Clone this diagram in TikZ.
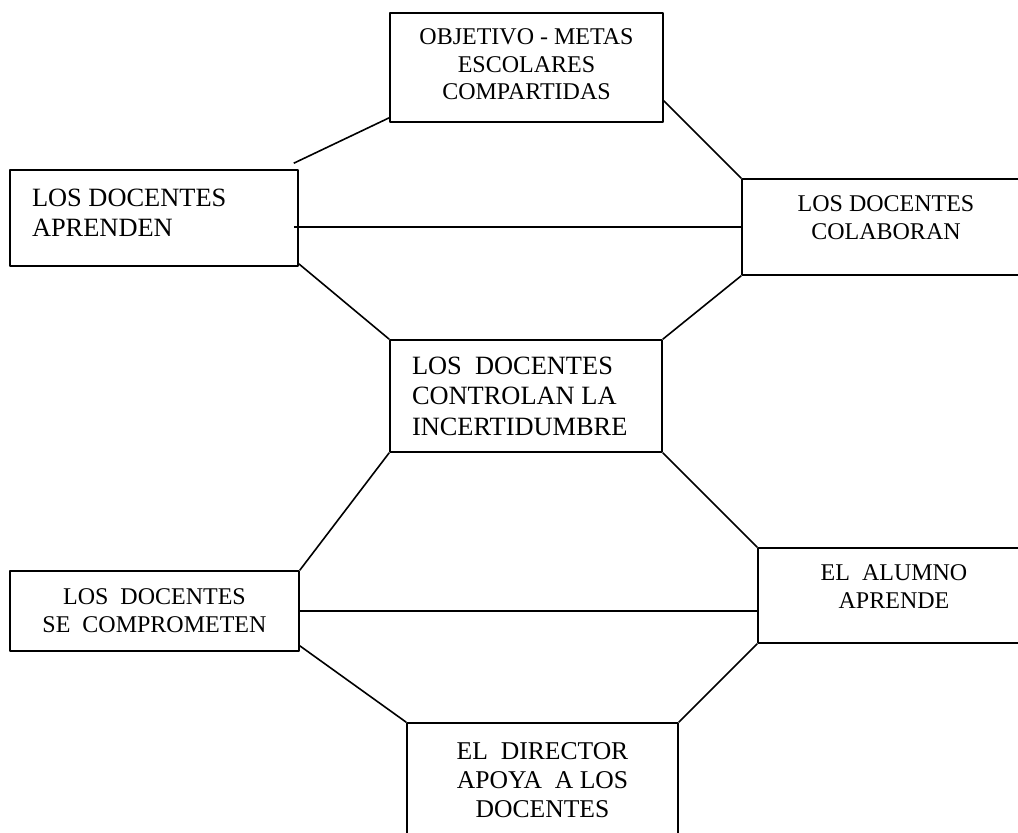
\documentclass[tikz,border=0pt]{standalone}
\usepackage{fontspec}
\setmainfont{Liberation Serif}
\usepackage{tikz}
\usetikzlibrary{positioning}

\begin{document}
\begin{tikzpicture}[
                x=1pt, y=-1pt,
                line join=bevel,
                line width=1.6pt,
                boxnode/.style={shape=rectangle, draw=black, line width=1.6pt, inner sep=0pt},
                boxtext/.style={inner sep=0pt, align=center, anchor=north},
                bigtext/.style={font=\fontsize{26.4}{30.5}\selectfont},
                smalltext/.style={font=\fontsize{24}{27.5}\selectfont}
                ]
                \useasboundingbox (0,0) rectangle (1018,833);
                \clip (0,0) rectangle (1018,833);

                %% Boxes
                \node[boxnode, minimum width=273pt, minimum height=109pt] (objetivo) at (526.5,67.5) {};
                \node[boxnode, minimum width=288pt, minimum height=96pt] (aprenden) at (154,218) {};
                \node[boxnode, minimum width=288pt, minimum height=96pt] (colaboran) at (886,227) {};
                \node[boxnode, minimum width=272pt, minimum height=112pt] (incert) at (526,396) {};
                \node[boxnode, minimum width=289pt, minimum height=80pt] (compromete) at (154.5,611) {};
                \node[boxnode, minimum width=272pt, minimum height=95pt] (alumno) at (894,595.5) {};
                \node[boxnode, minimum width=271pt, minimum height=122pt] (director) at (542.5,784) {};

                        % Box texts
                        \node[boxtext, smalltext, below=16pt of objetivo.north] (objetivotxt) {OBJETIVO - METAS\\ESCOLARES\\COMPARTIDAS};
                        \node[boxtext, bigtext, align=left, below right=19pt and 22pt of aprenden.north west] (aprendentxt) {LOS DOCENTES\\APRENDEN};
                        \node[boxtext, smalltext, below=17pt of colaboran.north] (colaborantxt) {LOS DOCENTES\\COLABORAN};
                        \node[boxtext, bigtext, align=left, below right=17pt and 22pt of incert.north west] (incerttxt) {LOS\ \ DOCENTES\\CONTROLAN LA\\INCERTIDUMBRE};
                        \node[boxtext, smalltext, below=18pt of compromete.north] (comprometetxt) {LOS\ \ DOCENTES\\SE\ \ COMPROMETEN};
                        \node[boxtext, smalltext, below=17pt of alumno.north] (alumnotxt) {EL\ \ ALUMNO\\APRENDE};
                        \node[boxtext, font=\fontsize{25.6}{29}\selectfont, below=20pt of director.north] (directortxt) {EL\ \ DIRECTOR\\APOYA\ \ A LOS\\DOCENTES};

                %% Connectors
                \draw ([xshift=-5pt, yshift=6pt]aprenden.north east) -- ([yshift=5pt]objetivo.south west);
                \draw ([yshift=22pt]objetivo.south east) -- (colaboran.north west);
                \draw ([xshift=-5pt]aprenden.east |- colaboran.west) -- (colaboran.west);
                \draw ([yshift=3pt]aprenden.south east) -- (incert.north west);
                \draw (colaboran.south west) -- (incert.north east);
                \draw (incert.south west) -- (compromete.north east);
                \draw (incert.south east) -- (alumno.north west);
                \draw (compromete.east) -- (compromete.east -| alumno.west);
                \draw ([yshift=6pt]compromete.south east) -- (director.north west);
                \draw (alumno.south west) -- (director.north east);
\end{tikzpicture}
\end{document}
